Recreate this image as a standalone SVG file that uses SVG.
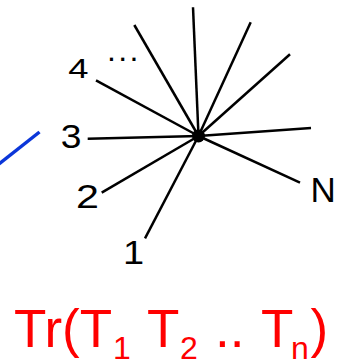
<svg xmlns="http://www.w3.org/2000/svg" width="346" height="361" viewBox="0 0 346 361">
<style>
.ray{stroke:#000;stroke-width:2.5;stroke-linecap:butt;fill:none}
.lbl{font-family:"Liberation Sans",Arial,sans-serif;fill:#000}
.red{font-family:"Liberation Sans",Arial,sans-serif;fill:#ff0000}
</style>
<rect width="346" height="361" fill="#fff"/>
<g id="connectors">
<line class="ray" x1="96" y1="80.3" x2="198.5" y2="136"/>
<line class="ray" x1="134.3" y1="25" x2="198.5" y2="136"/>
<line class="ray" x1="193" y1="7.3" x2="198.5" y2="136"/>
<line class="ray" x1="250.7" y1="22.3" x2="198.5" y2="136"/>
<line class="ray" x1="290" y1="54.3" x2="198.5" y2="136"/>
<line class="ray" x1="87.7" y1="138.7" x2="198.5" y2="136"/>
<line class="ray" x1="311" y1="128" x2="198.5" y2="136"/>
<line class="ray" x1="300" y1="182.7" x2="198.5" y2="136"/>
<line class="ray" x1="101.7" y1="192.7" x2="198.5" y2="136"/>
<line class="ray" x1="145" y1="238.3" x2="198.5" y2="136"/>
<line x1="39.5" y1="132" x2="-1" y2="164" stroke="#0b36d9" stroke-width="3.5"/>
</g>
<g id="hub"><circle cx="198.5" cy="136" r="6.5" fill="#000"/></g>
<g id="label-4"><text class="lbl" transform="translate(68.3,78.3) scale(1.3,1)" font-size="28">4</text></g>
<g id="label-dots"><text class="lbl" x="107" y="60.5" font-size="32" letter-spacing="2.3">...</text></g>
<g id="label-3"><text class="lbl" transform="translate(60.7,147.8) scale(1.13,1)" font-size="33">3</text></g>
<g id="label-2"><text class="lbl" transform="translate(76,208.3) scale(1.25,1)" font-size="33">2</text></g>
<g id="label-1"><text class="lbl" transform="translate(122.9,264.3) scale(1.15,1)" font-size="33">1</text></g>
<g id="label-N"><text class="lbl" x="310.6" y="201.7" font-size="35">N</text></g>
<g id="formula" font-size="53">
<text class="red" x="14" y="346.5">Tr(T</text>
<text class="red" x="113" y="359" font-size="32">1</text>
<text class="red" x="147" y="346.5">T</text>
<text class="red" x="180" y="359" font-size="32">2</text>
<text class="red" x="215" y="346.5">..</text>
<text class="red" x="261" y="346.5">T</text>
<text class="red" x="291" y="359" font-size="32">n</text>
<text class="red" x="310.5" y="346.5">)</text>
</g>
</svg>
